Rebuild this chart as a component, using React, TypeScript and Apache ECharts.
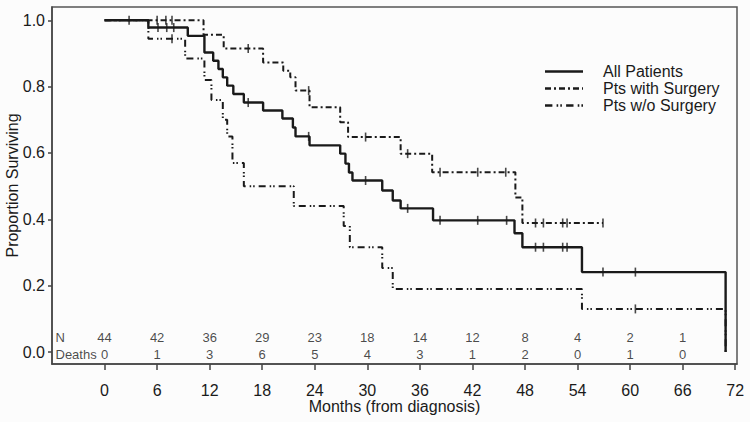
import React, { useEffect, useRef } from "react";
import * as echarts from "echarts";

const FONT = "'Liberation Sans', Arial, sans-serif";
const INK = "#1a1a1a";

// Kaplan-Meier step points [month, proportion surviving]
const allPatients: [number, number][] = [
  [0, 1], [5.0, 0.978], [9.5, 0.953], [11.4, 0.903], [12.4, 0.878], [13.0, 0.853],
  [13.5, 0.828], [14.0, 0.803], [14.7, 0.778], [15.9, 0.752], [18.1, 0.728],
  [20.3, 0.704], [21.5, 0.677], [21.8, 0.65], [23.4, 0.623], [26.9, 0.598],
  [27.5, 0.568], [27.9, 0.541], [28.3, 0.517], [31.7, 0.487], [32.9, 0.457],
  [33.8, 0.433], [37.5, 0.397], [46.8, 0.358], [47.7, 0.316], [54.5, 0.241], [70.9, 0],
];
const allCensored: [number, number][] = [
  [2.8, 1], [6.1, 0.978], [7.1, 0.978], [7.9, 0.978], [16.4, 0.752], [23.3, 0.65],
  [29.8, 0.517], [34.6, 0.433], [38.3, 0.397], [42.6, 0.397], [45.9, 0.397],
  [49.2, 0.316], [50.1, 0.316], [52.3, 0.316], [52.8, 0.316], [56.9, 0.241], [60.6, 0.241],
];

const withSurgery: [number, number][] = [
  [0, 1], [11.3, 0.956], [13.6, 0.915], [18.1, 0.873], [20.4, 0.848], [21.2, 0.828],
  [21.8, 0.788], [23.4, 0.738], [26.9, 0.693], [27.8, 0.648], [33.8, 0.598],
  [37.4, 0.542], [46.9, 0.466], [47.7, 0.389], [56.9, 0.389],
];
const withCensored: [number, number][] = [
  [6.0, 1], [7.0, 1], [7.7, 1], [16.4, 0.915], [23.3, 0.788], [29.8, 0.648],
  [34.6, 0.598], [38.3, 0.542], [42.6, 0.542], [45.8, 0.542], [49.2, 0.389],
  [50.1, 0.389], [52.3, 0.389], [52.8, 0.389], [56.9, 0.389],
];

const withoutSurgery: [number, number][] = [
  [0, 1], [5.0, 0.944], [9.2, 0.885], [11.4, 0.82], [12.2, 0.76], [13.5, 0.7],
  [14.0, 0.65], [14.6, 0.57], [15.9, 0.5], [21.6, 0.44], [27.3, 0.38], [28.0, 0.316],
  [31.7, 0.253], [32.9, 0.19], [54.5, 0.13], [70.9, 0],
];
const withoutCensored: [number, number][] = [[7.7, 0.944], [60.6, 0.13]];

// risk table
const tableMonths = [0, 6, 12, 18, 24, 30, 36, 42, 48, 54, 60, 66];
const atRisk = [44, 42, 36, 29, 23, 18, 14, 12, 8, 4, 2, 1];
const deaths = [0, 1, 3, 6, 5, 4, 3, 1, 2, 0, 1, 0];

const xTicks = [0, 6, 12, 18, 24, 30, 36, 42, 48, 54, 60, 66, 72];
const yTicks = [0, 0.2, 0.4, 0.6, 0.8, 1.0];

const seriesNames = ["All Patients", "Pts with Surgery", "Pts w/o Surgery"];

const N_ROW_Y = 0.045;
const D_ROW_Y = -0.006;

const WITH_DASH = [6, 3, 2, 3];
const WITHOUT_DASH = [7, 4, 1.5, 2, 1.5, 4];

// legend icon: dashed bar as a filled path
function dashIcon(pattern: number[] | null, w: number, h: number) {
  if (!pattern) return `path://M0,0h${w}v${h}h-${w}z`;
  let x = 0;
  let i = 0;
  let d = "";
  while (x < w) {
    const len = Math.min(pattern[i % pattern.length], w - x);
    if (i % 2 === 0 && len > 0) d += `M${x},0h${len}v${h}h-${len}z`;
    x += pattern[i % pattern.length];
    i++;
  }
  return "path://" + d;
}

function censorSeries(data: [number, number][]) {
  return {
    type: "scatter",
    data,
    symbol: "rect",
    symbolSize: [1.6, 9],
    itemStyle: { color: INK },
    silent: true,
    z: 4,
  };
}

export default function App() {
  const ref = useRef<HTMLDivElement>(null);
  useEffect(() => {
    const chart = echarts.init(ref.current!, null, { renderer: "svg" });
    const tableData: any[] = [];
    tableMonths.forEach((m, i) => {
      tableData.push({ value: [m, N_ROW_Y], label: { formatter: String(atRisk[i]) } });
      tableData.push({ value: [m, D_ROW_Y], label: { formatter: String(deaths[i]) } });
    });
    const option: any = {
      animation: false,
      backgroundColor: "#fcfcfc",
      textStyle: { fontFamily: FONT },
      grid: {
        left: 52, top: 7, right: 13, bottom: 58,
        containLabel: false,
        outerBoundsMode: "none",
        show: true, borderColor: "#555", borderWidth: 1.5, backgroundColor: "transparent",
      },
      legend: {
        orient: "vertical",
        left: 545,
        top: 63,
        padding: 0,
        itemWidth: 38,
        itemHeight: 2.4,
        itemGap: 0,
        symbolKeepAspect: false,
        data: [
          { name: seriesNames[0], icon: dashIcon(null, 38, 2.4) },
          { name: seriesNames[1], icon: dashIcon(WITH_DASH, 38, 2.4) },
          { name: seriesNames[2], icon: dashIcon(WITHOUT_DASH, 38, 2.4) },
        ],
        itemStyle: { color: INK },
        textStyle: { fontFamily: FONT, fontSize: 16, color: INK, lineHeight: 17, padding: [0, 0, 0, 15] },
      },
      xAxis: {
        type: "value",
        min: -6,
        max: 72.2,
        name: "Months (from diagnosis)",
        nameLocation: "middle",
        nameGap: 34,
        nameMoveOverlap: false,
        nameTextStyle: { fontFamily: FONT, fontSize: 16, color: INK },
        axisLine: { show: true, onZero: false, lineStyle: { color: "#444", width: 1.5 } },
        axisTick: { show: true, length: 6, customValues: xTicks, lineStyle: { color: "#444", width: 1.5 } },
        axisLabel: { customValues: xTicks, fontFamily: FONT, fontSize: 16, color: INK, margin: 18 },
        splitLine: { show: false },
      },
      yAxis: {
        type: "value",
        min: -0.036,
        max: 1.04,
        name: "Proportion Surviving",
        nameLocation: "middle",
        nameGap: 32,
        nameMoveOverlap: false,
        nameTextStyle: { fontFamily: FONT, fontSize: 16, color: INK },
        axisLine: { show: true, onZero: false, lineStyle: { color: "#444", width: 1.5 } },
        axisTick: { show: true, length: 4, customValues: yTicks, lineStyle: { color: "#444", width: 1.5 } },
        axisLabel: {
          customValues: yTicks, fontFamily: FONT, fontSize: 16, color: INK, margin: 7,
          formatter: (v: number) => v.toFixed(1),
        },
        splitLine: { show: false },
      },
      series: [
        {
          name: seriesNames[0], type: "line", step: "end", data: allPatients, symbol: "none",
          lineStyle: { color: INK, width: 2.4, type: "solid" }, itemStyle: { color: INK }, z: 3,
        },
        {
          name: seriesNames[1], type: "line", step: "end", data: withSurgery, symbol: "none",
          lineStyle: { color: INK, width: 2, type: WITH_DASH }, itemStyle: { color: INK }, z: 2,
        },
        {
          name: seriesNames[2], type: "line", step: "end", data: withoutSurgery, symbol: "none",
          lineStyle: { color: INK, width: 2, type: WITHOUT_DASH }, itemStyle: { color: INK }, z: 2,
        },
        censorSeries(allCensored),
        censorSeries(withCensored),
        censorSeries(withoutCensored),
        {
          type: "scatter",
          symbolSize: 1,
          itemStyle: { color: "transparent" },
          silent: true,
          data: tableData,
          label: { show: true, position: "inside", fontFamily: FONT, fontSize: 13, color: INK },
        },
        {
          type: "scatter",
          symbolSize: 1,
          itemStyle: { color: "transparent" },
          silent: true,
          data: [
            { value: [-5.6, N_ROW_Y], label: { formatter: "N" } },
            { value: [-5.6, D_ROW_Y], label: { formatter: "Deaths" } },
          ],
          label: { show: true, position: "inside", align: "left", fontFamily: FONT, fontSize: 13, color: INK },
        },
      ],
    };
    chart.setOption(option);
    return () => chart.dispose();
  }, []);
  return <div ref={ref} style={{ position: "fixed", left: 0, top: 0, width: 750, height: 422 }} />;
}
